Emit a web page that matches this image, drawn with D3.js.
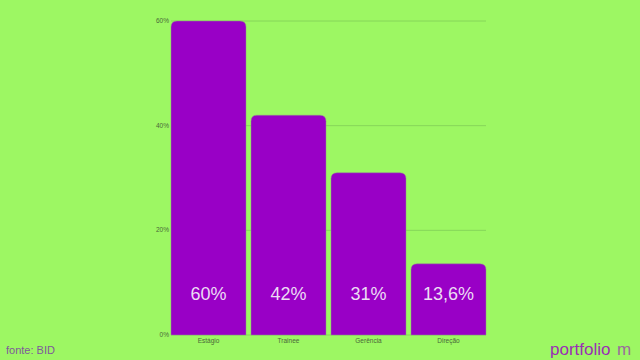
<!DOCTYPE html>
<html>
<head>
<meta charset="utf-8">
<script src="https://cdn.jsdelivr.net/npm/d3@7"></script>
<style>
  body { margin: 0; background: #9df763; }
  svg { display: block; font-family: "Liberation Sans", Arial, sans-serif; }
</style>
</head>
<body>
<svg id="chart" width="640" height="360"></svg>
<script>
// data
const categories = ["Estágio", "Trainee", "Gerência", "Direção"];
const values = [60, 42, 31, 13.6];
const valueLabels = ["60%", "42%", "31%", "13,6%"];
const yTicks = [0, 20, 40, 60];

const svg = d3.select("#chart");

const x = d3.scaleBand()
    .domain(categories)
    .range([168.5, 488.5])
    .paddingInner(0.0625)
    .paddingOuter(0.03125);

const y = d3.scaleLinear().domain([0, 60]).range([335, 21]);

// gridlines
svg.append("g")
    .selectAll("line")
    .data(yTicks)
    .join("line")
    .attr("x1", 171)
    .attr("x2", 486)
    .attr("y1", d => y(d))
    .attr("y2", d => y(d))
    .attr("stroke", "#86d65a")
    .attr("stroke-width", 1);

// y tick labels
svg.append("g")
    .selectAll("text")
    .data(yTicks)
    .join("text")
    .attr("x", 169)
    .attr("y", d => y(d) + 2)
    .attr("text-anchor", "end")
    .attr("font-size", 6.5)
    .attr("fill", "#4a6a3a")
    .text(d => d + "%");

// bars with rounded tops
const r = 6;
function barPath(d, i) {
    const x0 = x(categories[i]), w = x.bandwidth();
    const y0 = y(d), y1 = y(0);
    return `M${x0},${y1} V${y0 + r} Q${x0},${y0} ${x0 + r},${y0} H${x0 + w - r} Q${x0 + w},${y0} ${x0 + w},${y0 + r} V${y1} Z`;
}

svg.append("g")
    .selectAll("path")
    .data(values)
    .join("path")
    .attr("d", barPath)
    .attr("fill", "#9900c6")
    .attr("stroke", "#8f8f8f")
    .attr("stroke-opacity", 0.6)
    .attr("stroke-width", 0.8);

// value labels inside bars
svg.append("g")
    .selectAll("text")
    .data(valueLabels)
    .join("text")
    .attr("x", (d, i) => x(categories[i]) + x.bandwidth() / 2)
    .attr("y", 300)
    .attr("text-anchor", "middle")
    .attr("font-size", 18)
    .attr("fill", "#ecdcf4")
    .text(d => d);

// category labels
svg.append("g")
    .selectAll("text")
    .data(categories)
    .join("text")
    .attr("x", d => x(d) + x.bandwidth() / 2)
    .attr("y", 343)
    .attr("text-anchor", "middle")
    .attr("font-size", 6.5)
    .attr("fill", "#4a6a3a")
    .text(d => d);

// source
svg.append("text")
    .attr("x", 6)
    .attr("y", 354)
    .attr("font-size", 11)
    .attr("fill", "#7d5a9a")
    .text("fonte: BID");

// logo
svg.append("text")
    .attr("x", 550)
    .attr("y", 355)
    .attr("font-size", 17)
    .attr("fill", "#9a2fb4")
    .text("portfolio");
svg.append("text")
    .attr("x", 617)
    .attr("y", 355)
    .attr("font-size", 17)
    .attr("fill", "#9a2fb4")
    .attr("opacity", 0.7)
    .text("m");
</script>
</body>
</html>
